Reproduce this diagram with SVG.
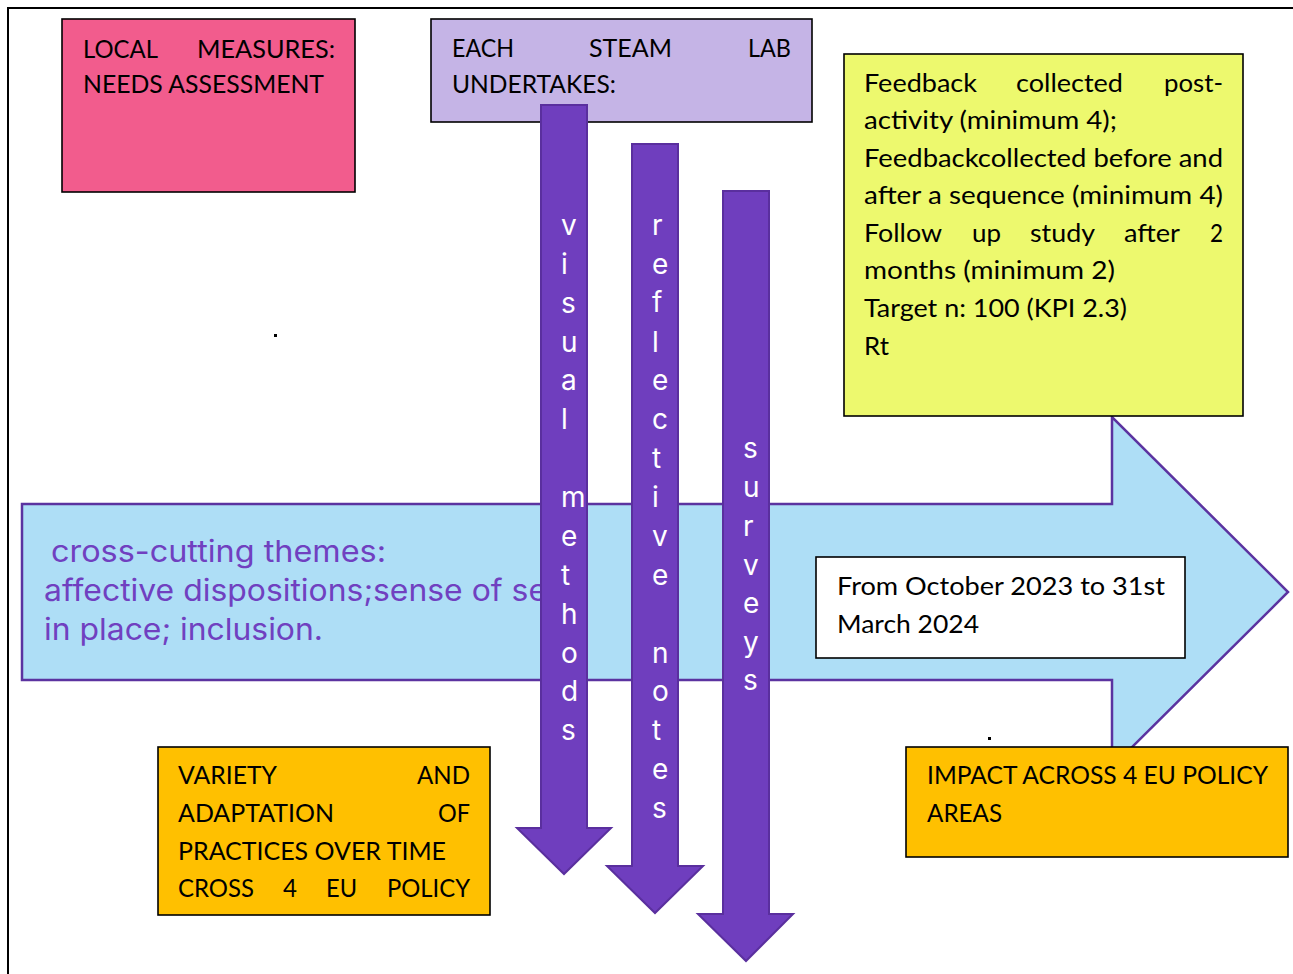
<svg xmlns="http://www.w3.org/2000/svg" width="1293" height="974" viewBox="0 0 1293 974">
<style>
.box{stroke:#000;stroke-width:1.6}
.t{font-family:Lato,"Liberation Sans",sans-serif;font-size:25.5px;fill:#000}
.pa{fill:#6F3EBE;stroke:#5A2F9E;stroke-width:2}
.vl{font-family:Inter,"Noto Sans",sans-serif;font-size:28px;fill:#fff}
.bt{font-family:Inter,"Noto Sans",sans-serif;font-size:30px;fill:#7040C0}
</style>
<rect width="1293" height="974" fill="#fff"/>
<path d="M8,974 V8 H1293" fill="none" stroke="#000" stroke-width="2"/>

<g id="local-measures">
<rect class="box" x="62" y="19" width="293" height="173" fill="#F25C8D"/>
<text class="t" x="83" y="58" textLength="75" lengthAdjust="spacingAndGlyphs">LOCAL</text>
<text class="t" x="197" y="58" textLength="138" lengthAdjust="spacingAndGlyphs">MEASURES:</text>
<text class="t" x="83" y="93" textLength="241" lengthAdjust="spacingAndGlyphs">NEEDS ASSESSMENT</text>
</g>

<g id="steam-lab">
<rect class="box" x="431" y="19" width="381" height="103" fill="#C5B4E6"/>
<text class="t" x="452" y="57" textLength="62" lengthAdjust="spacingAndGlyphs">EACH</text>
<text class="t" x="589" y="57" textLength="83" lengthAdjust="spacingAndGlyphs">STEAM</text>
<text class="t" x="748" y="57" textLength="43" lengthAdjust="spacingAndGlyphs">LAB</text>
<text class="t" x="452" y="93" textLength="164" lengthAdjust="spacingAndGlyphs">UNDERTAKES:</text>
</g>

<g id="timeline-arrow">
<polygon points="22,504 1112,504 1112,417 1288,592 1112,767 1112,680 22,680" fill="#AEDEF6" stroke="#5B33A0" stroke-width="2.5"/>
<text class="bt" x="51" y="562" textLength="335" lengthAdjust="spacingAndGlyphs">cross-cutting themes:</text>
<text class="bt" x="44" y="601" textLength="503" lengthAdjust="spacingAndGlyphs">affective dispositions;sense of se</text>
<text class="bt" x="44" y="640" textLength="279" lengthAdjust="spacingAndGlyphs">in place; inclusion.</text>
</g>

<g id="feedback">
<rect class="box" x="844" y="54" width="399" height="362" fill="#EDF96E"/>
<text class="t" x="864" y="92" textLength="113" lengthAdjust="spacingAndGlyphs">Feedback</text>
<text class="t" x="1016" y="92" textLength="107" lengthAdjust="spacingAndGlyphs">collected</text>
<text class="t" x="1164" y="92" textLength="59" lengthAdjust="spacingAndGlyphs">post-</text>
<text class="t" x="864" y="129" textLength="253" lengthAdjust="spacingAndGlyphs">activity (minimum 4);</text>
<text class="t" x="864" y="167" textLength="359" lengthAdjust="spacingAndGlyphs">Feedbackcollected before and</text>
<text class="t" x="864" y="204" textLength="359" lengthAdjust="spacingAndGlyphs">after a sequence (minimum 4)</text>
<text class="t" x="864" y="242" textLength="78" lengthAdjust="spacingAndGlyphs">Follow</text>
<text class="t" x="972" y="242" textLength="29" lengthAdjust="spacingAndGlyphs">up</text>
<text class="t" x="1030" y="242" textLength="65" lengthAdjust="spacingAndGlyphs">study</text>
<text class="t" x="1124" y="242" textLength="56" lengthAdjust="spacingAndGlyphs">after</text>
<text class="t" x="1210" y="242" textLength="13" lengthAdjust="spacingAndGlyphs">2</text>
<text class="t" x="864" y="279" textLength="251" lengthAdjust="spacingAndGlyphs">months (minimum 2)</text>
<text class="t" x="864" y="317" textLength="263" lengthAdjust="spacingAndGlyphs">Target n: 100 (KPI 2.3)</text>
<text class="t" x="864" y="355" textLength="25" lengthAdjust="spacingAndGlyphs">Rt</text>
</g>

<g id="period">
<rect class="box" x="816" y="557" width="369" height="101" fill="#fff"/>
<text class="t" x="837" y="595" textLength="328" lengthAdjust="spacingAndGlyphs">From October 2023 to 31st</text>
<text class="t" x="837" y="633" textLength="142" lengthAdjust="spacingAndGlyphs">March 2024</text>
</g>

<g id="connectors">
<g id="visual-methods">
<polygon class="pa" points="541,105 587,105 587,828 611,828 564,874 517,828 541,828"/>
<g class="vl">
<text x="561" y="235">v</text><text x="561" y="274">i</text><text x="561" y="313">s</text><text x="561" y="352">u</text><text x="561" y="390">a</text><text x="561" y="429">l</text>
<text x="561" y="507">m</text><text x="561" y="546">e</text><text x="561" y="585">t</text><text x="561" y="624">h</text><text x="561" y="663">o</text><text x="561" y="701">d</text><text x="561" y="740">s</text>
</g>
</g>
<g id="reflective-notes">
<polygon class="pa" points="632,144 678,144 678,866 703,866 655,913 607,866 632,866"/>
<g class="vl">
<text x="652" y="235">r</text><text x="652" y="274">e</text><text x="652" y="312">f</text><text x="652" y="352">l</text><text x="652" y="390">e</text><text x="652" y="429">c</text><text x="652" y="468">t</text><text x="652" y="507">i</text><text x="652" y="546">v</text><text x="652" y="585">e</text>
<text x="652" y="663">n</text><text x="652" y="701">o</text><text x="652" y="740">t</text><text x="652" y="779">e</text><text x="652" y="818">s</text>
</g>
</g>
<g id="surveys">
<polygon class="pa" points="723,191 769,191 769,914 793,914 746,961 698,914 723,914"/>
<g class="vl">
<text x="743" y="458">s</text><text x="743" y="497">u</text><text x="743" y="536">r</text><text x="743" y="575">v</text><text x="743" y="613">e</text><text x="743" y="652">y</text><text x="743" y="690">s</text>
</g>
</g>
</g>

<g id="variety">
<rect class="box" x="158" y="747" width="332" height="168" fill="#FFC000"/>
<text class="t" x="178" y="784" textLength="99" lengthAdjust="spacingAndGlyphs">VARIETY</text>
<text class="t" x="417" y="784" textLength="53" lengthAdjust="spacingAndGlyphs">AND</text>
<text class="t" x="178" y="822" textLength="156" lengthAdjust="spacingAndGlyphs">ADAPTATION</text>
<text class="t" x="438" y="822" textLength="32" lengthAdjust="spacingAndGlyphs">OF</text>
<text class="t" x="178" y="860" textLength="268" lengthAdjust="spacingAndGlyphs">PRACTICES OVER TIME</text>
<text class="t" x="178" y="897" textLength="76" lengthAdjust="spacingAndGlyphs">CROSS</text>
<text class="t" x="283" y="897" textLength="14" lengthAdjust="spacingAndGlyphs">4</text>
<text class="t" x="326" y="897" textLength="31" lengthAdjust="spacingAndGlyphs">EU</text>
<text class="t" x="387" y="897" textLength="83" lengthAdjust="spacingAndGlyphs">POLICY</text>
</g>

<g id="impact">
<rect class="box" x="906" y="747" width="382" height="110" fill="#FFC000"/>
<text class="t" x="927" y="784" textLength="341" lengthAdjust="spacingAndGlyphs">IMPACT ACROSS 4 EU POLICY</text>
<text class="t" x="927" y="822" textLength="75" lengthAdjust="spacingAndGlyphs">AREAS</text>
</g>

<g id="dots" fill="#000">
<rect x="274" y="334" width="3" height="3"/>
<rect x="988" y="737" width="3" height="3"/>
</g>
</svg>
